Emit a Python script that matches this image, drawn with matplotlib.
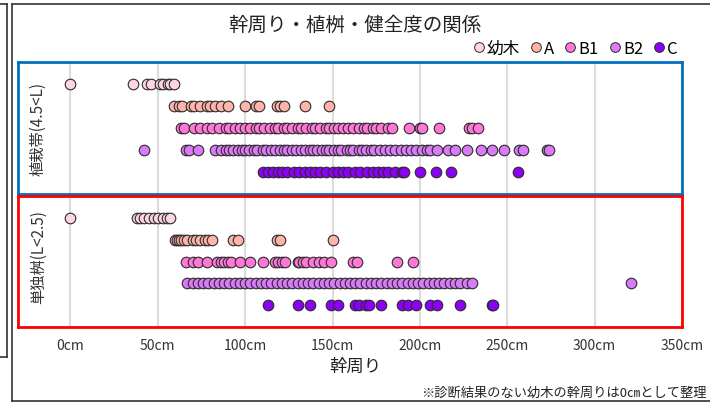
import matplotlib
matplotlib.use('Agg')
import matplotlib.pyplot as plt
from matplotlib.lines import Line2D

plt.rcParams['font.family'] = ['Noto Sans CJK JP', 'DejaVu Sans']

# health grades (rows) and their colours
grades = ['幼木', 'A', 'B1', 'B2', 'C']
colors = ['#ffd6e0', '#ffb4aa', '#ff78d8', '#d97af7', '#8c00f5']

# trunk girth (cm) per grade - planting strip (4.5<L)
strip_young = [0, 36, 44, 46, 51, 53, 56, 57, 59]
strip_a = [59, 62, 64, 69, 71, 74, 78, 80, 83, 86, 90, 100, 106, 108, 118,
           120, 122, 134, 148]
strip_b1 = [63, 65, 71, 74, 78, 81, 85, 89, 91, 94, 97, 100, 103, 106, 108,
            111, 114, 117, 119, 122, 124, 127, 130, 132, 135, 138, 140, 143,
            146, 148, 151, 153, 156, 159, 162, 165, 168, 170, 173, 175, 178,
            182, 184, 194, 200, 201, 211, 228, 230, 233]
strip_b2 = [42, 66, 68, 73, 83, 86, 89, 91, 93, 96, 98, 100, 102, 105, 107,
            110, 112, 115, 117, 120, 122, 124, 127, 129, 132, 134, 137, 139,
            141, 144, 146, 148, 151, 153, 155, 158, 160, 162, 165, 167, 169,
            172, 174, 177, 180, 183, 186, 189, 192, 195, 198, 201, 204, 206,
            210, 216, 220, 227, 235, 241, 248, 257, 259, 273, 274]
strip_c = [110, 113, 116, 119, 121, 124, 128, 131, 134, 137, 140, 143, 146,
           150, 153, 156, 159, 163, 166, 170, 173, 176, 179, 182, 186, 190,
           191, 200, 209, 218, 256]

# trunk girth (cm) per grade - single pit (L<2.5)
pit_young = [0, 38, 40, 42, 45, 48, 50, 53, 55, 57]
pit_a = [60, 61, 62, 63, 65, 67, 70, 72, 74, 77, 79, 81, 93, 96, 118, 120,
         150]
pit_b1 = [66, 70, 73, 78, 84, 86, 88, 90, 92, 97, 103, 110, 117, 119, 121,
          123, 130, 131, 133, 135, 139, 142, 145, 149, 162, 164, 187, 196]
pit_b2 = [67, 70, 73, 76, 79, 82, 85, 88, 91, 94, 97, 100, 103, 106, 109,
          112, 115, 118, 121, 124, 127, 130, 133, 136, 139, 142, 145, 148,
          151, 154, 157, 160, 163, 166, 169, 172, 175, 178, 181, 184, 187,
          190, 193, 196, 199, 202, 205, 208, 211, 214, 217, 220, 223, 227,
          230, 321]
pit_c = [113, 130, 137, 149, 153, 163, 165, 169, 171, 178, 190, 193, 198,
         206, 210, 223, 241, 242]

panels = [
    ('植栽帯(4.5<L)', [strip_young, strip_a, strip_b1, strip_b2, strip_c], '#0070c0'),
    ('単独桝(L<2.5)', [pit_young, pit_a, pit_b1, pit_b2, pit_c], '#ff0000'),
]

xticks = [0, 50, 100, 150, 200, 250, 300, 350]

W, H = 710, 406
fig = plt.figure(figsize=(W / 100, H / 100), dpi=100)

# outer frames (screenshot borders)
def line(x0, y0, x1, y1, c='#333333', lw=1.2):
    fig.add_artist(Line2D([x0 / W, x1 / W], [1 - y0 / H, 1 - y1 / H],
                          color=c, lw=lw, transform=fig.transFigure))

line(0, 5, 7, 5)
line(7, 5, 7, 358)
line(0, 358, 7, 358)
line(12, 5, 712, 5)
line(12, 5, 12, 402)
line(12, 402, 712, 402)

boxes = [(63, 195), (197, 328)]
for (label, rows, ec), (top, bot) in zip(panels, boxes):
    ax = fig.add_axes([18 / W, 1 - bot / H, 664 / W, (bot - top) / H])
    for i, xs in enumerate(rows):
        ax.scatter(xs, [i + 1] * len(xs), s=58, c=colors[i],
                   edgecolors='#2b2b2b', linewidths=0.8, zorder=3 + i)
    ax.set_xlim(-30, 350)
    ax.set_ylim(6, 0)
    ax.set_yticks([])
    ax.set_xticks(xticks)
    ax.grid(axis='x', color='#dcdcdc', lw=1.5, zorder=0)
    ax.tick_params(axis='x', length=0)
    for s in ax.spines.values():
        s.set_color(ec)
        s.set_linewidth(2.0)
    ax.text(-18.5, 3 if top == 63 else 2.75, label, rotation=90,
            ha='center', va='center', fontsize=11, color='#333333')
    if top == 63:
        ax.set_xticklabels([])
    else:
        ax.set_xticklabels([f'{t}cm' for t in xticks], fontsize=10,
                           color='#333333')
        ax.tick_params(axis='x', pad=8)

fig.text(355 / W, 1 - 25 / H, '幹周り・植桝・健全度の関係', ha='center',
         va='center', fontsize=14, color='#222222')
fig.text(355 / W, 1 - 367 / H, '幹周り', ha='center', va='center',
         fontsize=12.5, color='#222222')
fig.text(707 / W, 1 - 393 / H, '※診断結果のない幼木の幹周りは0㎝として整理',
         ha='right', va='center', fontsize=9.5, color='#222222')

handles = [Line2D([], [], marker='o', ls='', markersize=7, markerfacecolor=c,
                  markeredgecolor='#2b2b2b', markeredgewidth=0.7)
           for c in colors]
fig.legend(handles, grades, loc='center right',
           bbox_to_anchor=(678 / W, 1 - 49 / H), ncol=5, frameon=False,
           fontsize=12, handletextpad=0.05, columnspacing=0.5,
           handlelength=0.9, borderpad=0, borderaxespad=0)

fig.savefig('out.png', dpi=100)
